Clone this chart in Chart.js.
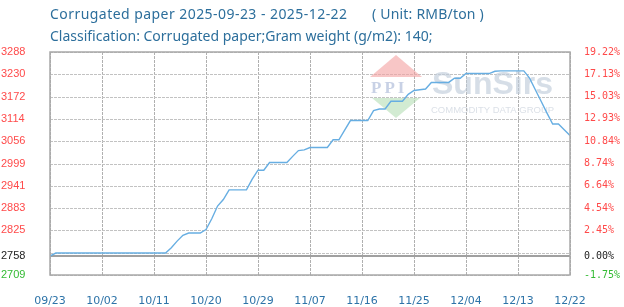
<!DOCTYPE html>
<html>
<head>
<meta charset="utf-8">
<script src="https://cdn.jsdelivr.net/npm/chart.js@4"></script>
<style>
html,body{margin:0;padding:0;background:#fff;}
#wrap{position:relative;width:624px;height:307px;}
</style>
</head>
<body>
<div id="wrap"><canvas id="c" width="624" height="307"></canvas></div>
<script>
const titleMain = 'Corrugated paper 2025-09-23 - 2025-12-22';
const titleUnit = '( Unit: RMB/ton )';
const titleLine2 = 'Classification: Corrugated paper;Gram weight (g/m2): 140;';

const xTickLabels = ['09/23','10/02','10/11','10/20','10/29','11/07','11/16','11/25','12/04','12/13','12/22'];
const dayStep = 9;

const prices = [
  2758,2766,2766,2766,2766,2766,2766,2766,2766,2766,
  2766,2766,2766,2766,2766,2766,2766,2766,2766,2766,
  2766,2780,2797,2812,2818,2818,2818,2827,2855,2888,
  2905,2930,2930,2930,2930,2958,2981,2981,3001,3001,
  3001,3001,3017,3032,3034,3040,3040,3040,3040,3060,
  3060,3085,3110,3110,3110,3110,3136,3140,3140,3160,
  3160,3160,3178,3188,3190,3192,3209,3209,3209,3209,
  3220,3220,3232,3232,3232,3232,3232,3238,3239,3239,
  3239,3239,3239,3220,3190,3160,3130,3101,3101,3086,
  3071
];

const yMin = 2709, yMax = 3288, baseValue = 2758;
const leftTickLabels  = ['3288','3230','3172','3114','3056','2999','2941','2883','2825','','2709'];
const rightTickLabels = ['19.22%','17.13%','15.03%','12.93%','10.84%','8.74%','6.64%','4.54%','2.45%','','-1.75%'];
const baseLeftLabel = '2758', baseRightLabel = '0.00%';

const gridStep = (yMax - yMin) / 10;
const key = v => v.toFixed(3);
const leftMap = new Map(), rightMap = new Map();
const yTickValues = [];
for (let k = 0; k <= 10; k++) {
  const v = yMax - k * gridStep;
  yTickValues.push(v);
  leftMap.set(key(v), leftTickLabels[k]);
  rightMap.set(key(v), rightTickLabels[k]);
}
yTickValues.push(baseValue);
leftMap.set(key(baseValue), baseLeftLabel);
rightMap.set(key(baseValue), baseRightLabel);
yTickValues.sort((a,b)=>a-b);

const points = prices.map((p,i)=>({x:i,y:p}));

const tickColor = ctx => {
  const v = ctx.tick.value;
  if (Math.abs(v - baseValue) < 1e-6) return '#222222';
  return v < baseValue ? '#33bb33' : '#ff4a4a';
};
const isBaseVal = v => Math.abs(v - baseValue) < 1e-6;

const framePlugin = {
  id: 'frame',
  beforeDatasetsDraw(chart) {
    const {ctx, chartArea:a, scales} = chart;
    ctx.save();
    ctx.globalAlpha = 1;
    const L = Math.round(a.left), R = Math.round(a.right), T = Math.round(a.top), B = Math.round(a.bottom);
    const xs = xTickLabels.map((_, i) => Math.round(scales.x.getPixelForValue(i * dayStep)));
    const ys = yTickValues.filter(v => !isBaseVal(v)).map(v => Math.round(scales.y.getPixelForValue(v)));
    ctx.fillStyle = '#b0b0b0';
    xs.forEach(px => { for (let y = T; y < B; y += 4) ctx.fillRect(px, y, 1, 3); });
    ctx.fillStyle = '#c2c2c2';
    ys.forEach(py => { for (let x = L; x < R; x += 4) ctx.fillRect(x, py, 3, 1); });
    ctx.fillStyle = '#a0a0a0';
    const by = Math.round(scales.y.getPixelForValue(baseValue));
    ctx.fillRect(L, by - 1, R - L, 2);

    // watermark
    ctx.globalAlpha = 0.6;
    ctx.fillStyle = '#f4a0a0';
    ctx.beginPath(); ctx.moveTo(396,55); ctx.lineTo(422,77); ctx.lineTo(370,77); ctx.closePath(); ctx.fill();
    ctx.fillStyle = '#b4deb4';
    ctx.beginPath(); ctx.moveTo(372,98); ctx.lineTo(420,98); ctx.lineTo(396,118); ctx.closePath(); ctx.fill();
    ctx.fillStyle = '#a3b3d3';
    ctx.font = 'bold 17px "Liberation Serif"';
    ctx.textBaseline = 'alphabetic';
    ctx.letterSpacing = '3px';
    ctx.fillText('PPI', 371, 93);
    ctx.letterSpacing = '0px';
    ctx.globalAlpha = 0.65;
    ctx.fillStyle = '#c0ccda';
    ctx.font = 'bold 32px "Liberation Sans"';
    ctx.fillText('SunSirs', 432, 94);
    ctx.font = '9.5px "Liberation Sans"';
    ctx.fillStyle = '#c8d0da';
    ctx.fillText('COMMODITY DATA GROUP', 431, 113);
    ctx.restore();
  },
  afterDraw(chart) {
    const {ctx, chartArea:a} = chart;
    ctx.save();
    ctx.strokeStyle = '#a8a8a8';
    ctx.lineWidth = 1.5;
    ctx.strokeRect(a.left, a.top, a.right - a.left, a.bottom - a.top);
    ctx.fillStyle = '#2d6f9c';
    ctx.font = '14px "Noto Sans"';
    ctx.textBaseline = 'middle';
    ctx.letterSpacing = '0.45px';
    ctx.fillText(titleMain, 50, 15);
    ctx.letterSpacing = '0.2px';
    ctx.fillText(titleUnit, 372, 15);
    ctx.letterSpacing = '0px';
    ctx.fillText(titleLine2, 50, 37);
    ctx.restore();
  }
};

new Chart(document.getElementById('c'), {
  type: 'line',
  data: {
    datasets: [{
      data: points,
      borderColor: '#67aee2',
      borderWidth: 1.4,
      pointRadius: 0,
      tension: 0,
      fill: false
    }]
  },
  options: {
    responsive: false,
    animation: false,
    events: [],
    layout: { padding: { left: 1, top: 52, right: 0, bottom: 0 } },
    plugins: { legend: { display: false }, tooltip: { enabled: false } },
    scales: {
      x: {
        type: 'linear',
        min: 0, max: 90,
        afterBuildTicks: s => { s.ticks = xTickLabels.map((_,i)=>({value:i*dayStep})); },
        afterFit: s => { s.height = 32; },
        ticks: {
          autoSkip: false, maxRotation: 0, padding: 12,
          color: '#2d73a8',
          font: { family: '"DejaVu Sans"', size: 11 },
          callback: v => xTickLabels[Math.round(v/dayStep)]
        },
        grid: { display: false },
        border: { display: false }
      },
      y: {
        position: 'left',
        min: yMin, max: yMax,
        afterBuildTicks: s => { s.ticks = yTickValues.map(v=>({value:v})); },
        afterFit: s => { s.width = 49; },
        ticks: {
          autoSkip: false, crossAlign: 'far',
          color: tickColor,
          font: { family: '"Liberation Sans"', size: 11 },
          callback: v => leftMap.get(key(v))
        },
        grid: { display: false },
        border: { display: false }
      },
      y1: {
        position: 'right',
        display: true,
        min: yMin, max: yMax,
        afterBuildTicks: s => { s.ticks = yTickValues.map(v=>({value:v})); },
        afterFit: s => { s.width = 54; },
        ticks: {
          autoSkip: false, padding: 6,
          color: tickColor,
          font: { family: '"DejaVu Sans Mono"', size: 10 },
          callback: v => rightMap.get(key(v))
        },
        grid: { display: false },
        border: { display: false }
      }
    }
  },
  plugins: [framePlugin]
});
</script>
</body>
</html>
